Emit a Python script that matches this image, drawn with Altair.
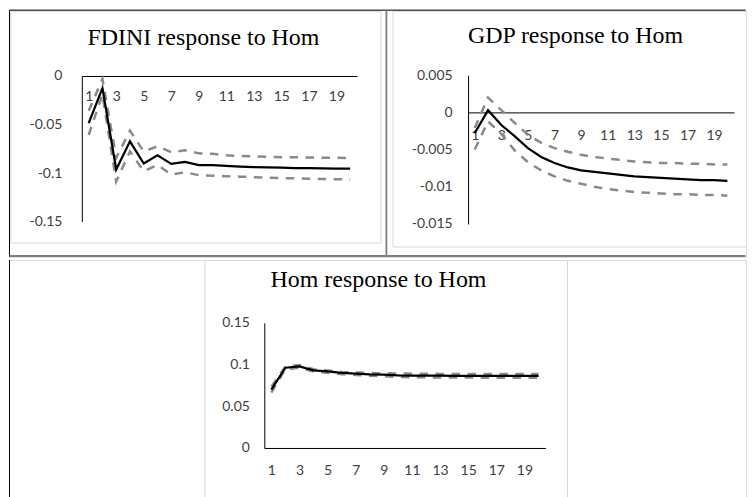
import altair as alt
import pandas as pd

# ---------------- data ----------------
periods = list(range(1, 21))
x_tick_labels = [1, 3, 5, 7, 9, 11, 13, 15, 17, 19]

titles = ["FDINI response to Hom", "GDP response to Hom", "Hom response to Hom"]

fdini_resp = [-0.0485, -0.0125, -0.0964, -0.0673, -0.0902, -0.0818, -0.0906, -0.0885, -0.0919, -0.0919,
              -0.0927, -0.0933, -0.0938, -0.0942, -0.0945, -0.0948, -0.0950, -0.0952, -0.0954, -0.0955]
fdini_upper = [-0.0359, -0.0030, -0.0844, -0.0563, -0.0778, -0.0724, -0.0785, -0.0766, -0.0797, -0.0802,
               -0.0817, -0.0824, -0.0829, -0.0833, -0.0836, -0.0838, -0.0840, -0.0842, -0.0843, -0.0844]
fdini_lower = [-0.0608, -0.0190, -0.1087, -0.0777, -0.0981, -0.0917, -0.1015, -0.0992, -0.1022, -0.1027,
               -0.1033, -0.1037, -0.1042, -0.1047, -0.1051, -0.1055, -0.1058, -0.1061, -0.1064, -0.1066]

gdp_resp = [-0.0028, 0.0003, -0.0017, -0.0032, -0.0048, -0.0060, -0.0068, -0.0074, -0.0078, -0.0080,
            -0.0082, -0.0084, -0.0086, -0.0087, -0.0088, -0.0089, -0.0090, -0.0091, -0.0091, -0.0092]
gdp_upper = [-0.0021, 0.0020, 0.0003, -0.0014, -0.0030, -0.0041, -0.0048, -0.0053, -0.0057, -0.0060,
             -0.0062, -0.0064, -0.0066, -0.0067, -0.0068, -0.0068, -0.0069, -0.0069, -0.0070, -0.0070]
gdp_lower = [-0.0050, -0.0012, -0.0029, -0.0051, -0.0067, -0.0078, -0.0086, -0.0092, -0.0096, -0.0100,
             -0.0103, -0.0105, -0.0107, -0.0108, -0.0109, -0.0110, -0.0110, -0.0111, -0.0111, -0.0112]

hom_resp = [0.0699, 0.0962, 0.0978, 0.0930, 0.0918, 0.0899, 0.0890, 0.0882, 0.0878, 0.0870,
            0.0868, 0.0867, 0.0866, 0.0865, 0.0865, 0.0864, 0.0864, 0.0863, 0.0863, 0.0863]
hom_upper = [0.0735, 0.0975, 0.0995, 0.0945, 0.0930, 0.0912, 0.0905, 0.0898, 0.0895, 0.0892,
             0.0890, 0.0889, 0.0888, 0.0888, 0.0887, 0.0887, 0.0887, 0.0887, 0.0887, 0.0887]
hom_lower = [0.0663, 0.0945, 0.0960, 0.0915, 0.0900, 0.0885, 0.0875, 0.0866, 0.0860, 0.0852,
             0.0848, 0.0846, 0.0845, 0.0844, 0.0844, 0.0843, 0.0843, 0.0843, 0.0843, 0.0843]

fdini_yticks = [0, -0.05, -0.1, -0.15]
gdp_yticks = [0.005, 0, -0.005, -0.01, -0.015]
hom_yticks = [0, 0.05, 0.1, 0.15]

# ---------------- helpers ----------------
LABEL_FONT = "Lato"
LABEL_SIZE = 14
LABEL_COLOR = "#404040"
TITLE_FONT = "Liberation Serif"


def frame(resp, upper, lower):
    rows = []
    for name, vals in (("resp", resp), ("upper", upper), ("lower", lower)):
        for p, v in zip(periods, vals):
            rows.append({"period": p, "value": v, "series": name})
    return pd.DataFrame(rows)


def panel(df, title, W, H, xr, yr, ydomain, yticks, xoff, yoff, xpad, ypad, box, tpos, rules):
    x = alt.X("period:Q",
              scale=alt.Scale(domain=[0.5, 20.5], range=xr, nice=False, zero=False),
              axis=alt.Axis(values=x_tick_labels, orient="bottom", offset=xoff, title=None,
                            ticks=False, grid=False, domainColor="black", domainWidth=1,
                            labelPadding=xpad, labelFont=LABEL_FONT, labelFontSize=LABEL_SIZE,
                            labelColor=LABEL_COLOR, labelOverlap=False, labelFlush=False))
    y = alt.Y("value:Q",
              scale=alt.Scale(domain=ydomain, range=yr, nice=False, zero=False),
              axis=alt.Axis(values=yticks, orient="left", offset=yoff, title=None,
                            ticks=False, grid=False, domainColor="black", domainWidth=1,
                            labelPadding=ypad, labelFont=LABEL_FONT, labelFontSize=LABEL_SIZE,
                            labelColor=LABEL_COLOR, labelExpr="'' + datum.value",
                            labelOverlap=False, labelFlush=False))

    base = alt.Chart(df)
    dashed = base.transform_filter("datum.series != 'resp'").mark_line(
        color="#8a8a8a", strokeWidth=2.5, strokeDash=[8.5, 7.5]
    ).encode(x=x, y=y, detail="series:N")
    solid = base.transform_filter("datum.series == 'resp'").mark_line(
        color="black", strokeWidth=2.25
    ).encode(x=x, y=y)

    one = pd.DataFrame({"t": [title]})
    border = alt.Chart(one).mark_rect(fill=None, stroke="#d9d9d9", strokeWidth=1, clip=True).encode(
        x=alt.value(box[0]), x2=alt.value(box[1]), y=alt.value(box[2]), y2=alt.value(box[3]))
    ttl = alt.Chart(one).mark_text(font=TITLE_FONT, fontSize=24, color="black",
                                   align="center", baseline="alphabetic").encode(
        x=alt.value(tpos[0]), y=alt.value(tpos[1]), text="t:N")

    layers = [border]
    for (x1, x2, y1, y2, col, sw) in rules:
        layers.append(alt.Chart(one).mark_rule(color=col, strokeWidth=sw).encode(
            x=alt.value(x1), x2=alt.value(x2), y=alt.value(y1), y2=alt.value(y2)))
    layers += [dashed, solid, ttl]
    return alt.layer(*layers).properties(width=W, height=H)


W1, W2 = 379, 360
W3 = W1 + W2
H1, H3 = 248, 241

p1 = panel(frame(fdini_resp, fdini_upper, fdini_lower), titles[0], W1, H1,
           [73, 349], [212.5, 66.5], [-0.15, 0], fdini_yticks, -(H1 - 66.5), -73, 14, 20,
           (2, 373, 2, 234), (195, 35),
           [(0.5, W1, 0.5, 0.5, "black", 1),
            (0.5, 0.5, 0.5, H1, "black", 1),
            (378.5, 378.5, 0.5, H1, "#7f7f7f", 2),
            (0.5, W1, 247, 247, "#7f7f7f", 2)])

p2 = panel(frame(gdp_resp, gdp_upper, gdp_lower), titles[1], W2, H1,
           [81.3, 348], [214.9, 65.7], [-0.015, 0.005], gdp_yticks, -(H1 - 103), -81.3, 16, 16,
           (6, W2 + 2, 2, 238), (189, 33),
           [(0, W2 - 0.5, 0.5, 0.5, "black", 1),
            (0, W2 - 0.5, 247, 247, "#7f7f7f", 2)])

p3 = panel(frame(hom_resp, hom_upper, hom_lower), titles[2], W3, H3,
           [256, 538], [188.5, 63], [0, 0.15], hom_yticks, -(H3 - 188.5), -256, 16, 15,
           (196.5, 560, 0.5, 239), (370.5, 27.5),
           [(0.5, 0.5, 0, H3 - 1, "black", 1)])

top = alt.hconcat(p1, p2, spacing=0, bounds="flush")
chart = alt.vconcat(top, p3, spacing=0, bounds="full").properties(
    padding=0
).configure_view(stroke=None).configure(background="white")

chart.save("out.html", embed_options={"renderer": "svg", "actions": False})
